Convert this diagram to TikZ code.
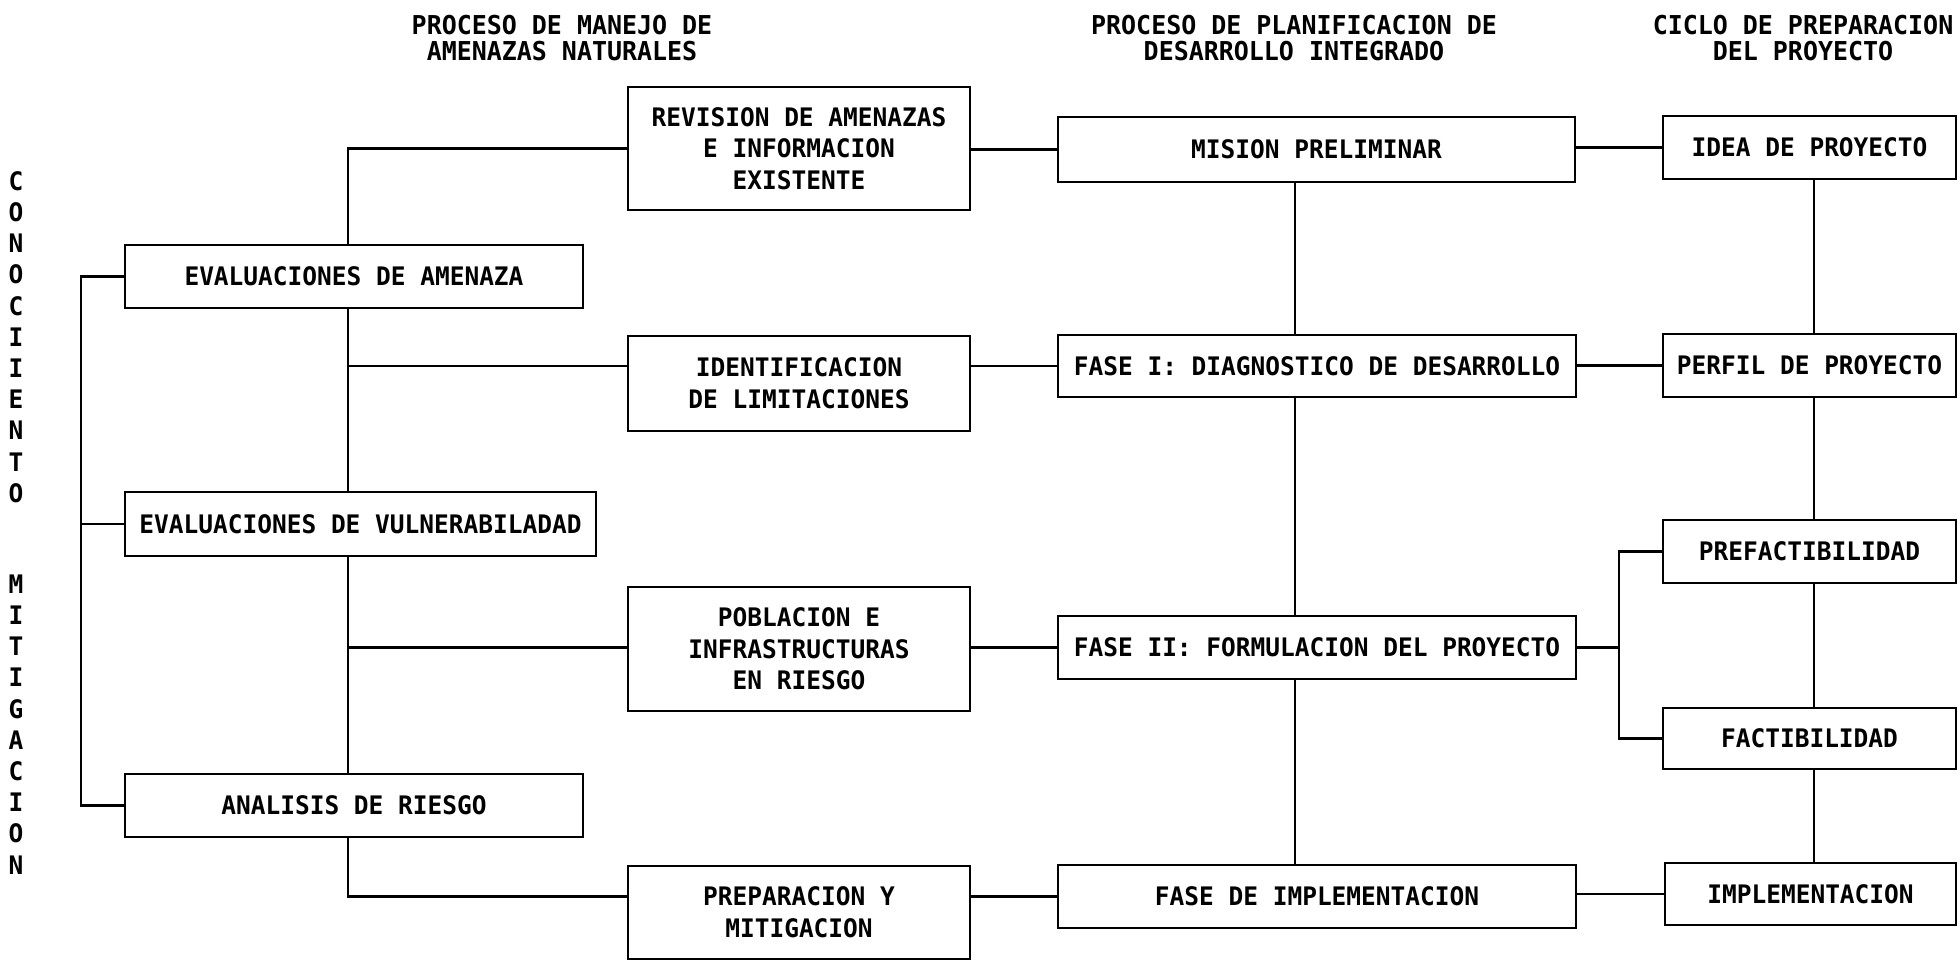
\documentclass[tikz,border=0pt]{standalone}
\usepackage{fontspec}
\newfontfamily\plotfont{DejaVu Sans Mono}[FakeStretch=0.96]
\begin{document}
\begin{tikzpicture}[x=1pt,y=-1pt,
  box/.style={draw,line width=2.8pt,rectangle,inner sep=0pt,align=center,
    font=\plotfont\bfseries\fontsize{25.5}{31.7}\selectfont},
  conn/.style={line width=2.2pt},
  hdr/.style={align=center,inner sep=0pt,
    font=\plotfont\bfseries\fontsize{26}{26}\selectfont},
  vl/.style={inner sep=0pt,font=\plotfont\bfseries\fontsize{25.5}{26}\selectfont}]
\useasboundingbox (0,0) rectangle (1958,961);
% headers
\node[hdr] (h1) at (562,38) {PROCESO DE MANEJO DE\\AMENAZAS NATURALES};
\node[hdr] (h2) at (1294,38) {PROCESO DE PLANIFICACION DE\\DESARROLLO INTEGRADO};
\node[hdr] (h3) at (1803,38) {CICLO DE PREPARACION\\DEL PROYECTO};
% vertical words
\foreach \l [count=\i] in {C,O,N,O,C,I,I,E,N,T,O}
  \node[vl] (ca\i) at (16,{181+31.2*(\i-1)}) {\l};
\foreach \l [count=\i] in {M,I,T,I,G,A,C,I,O,N}
  \node[vl] (mi\i) at (16,{584+31.2*(\i-1)}) {\l};
% column 1
\node[box,minimum width=458pt,minimum height=63pt] (ea) at (354,276.5) {EVALUACIONES DE AMENAZA};
\node[box,minimum width=471pt,minimum height=64pt] (ev) at (360.5,524) {EVALUACIONES DE VULNERABILADAD};
\node[box,minimum width=458pt,minimum height=63pt] (ar) at (354,805.5) {ANALISIS DE RIESGO};
% column 2
\node[box,minimum width=342pt,minimum height=123pt] (rev) at (799,148.5) {REVISION DE AMENAZAS\\E INFORMACION\\EXISTENTE};
\node[box,minimum width=342pt,minimum height=95pt] (idl) at (799,383.5) {IDENTIFICACION\\DE LIMITACIONES};
\node[box,minimum width=342pt,minimum height=124pt] (pob) at (799,649) {POBLACION E\\INFRASTRUCTURAS\\EN RIESGO};
\node[box,minimum width=342pt,minimum height=93pt] (prep) at (799,912.5) {PREPARACION Y\\MITIGACION};
% column 3
\node[box,minimum width=517pt,minimum height=65pt] (mis) at (1316.5,149.5) {MISION PRELIMINAR};
\node[box,minimum width=518pt,minimum height=62pt] (f1) at (1317,366) {FASE I: DIAGNOSTICO DE DESARROLLO};
\node[box,minimum width=518pt,minimum height=63pt] (f2) at (1317,647.5) {FASE II: FORMULACION DEL PROYECTO};
\node[box,minimum width=518pt,minimum height=63pt] (fi) at (1317,896.5) {FASE DE IMPLEMENTACION};
% column 4
\node[box,minimum width=293pt,minimum height=63pt] (idea) at (1809.5,147.5) {IDEA DE PROYECTO};
\node[box,minimum width=293pt,minimum height=63pt] (perf) at (1809.5,365.5) {PERFIL DE PROYECTO};
\node[box,minimum width=293pt,minimum height=63pt] (pref) at (1809.5,551.5) {PREFACTIBILIDAD};
\node[box,minimum width=293pt,minimum height=61pt] (fact) at (1809.5,738.5) {FACTIBILIDAD};
\node[box,minimum width=291pt,minimum height=62pt] (impl) at (1810.5,894) {IMPLEMENTACION};
% helper coordinates
\coordinate (lb) at (81,0);
\coordinate (tr) at (348,0);
\coordinate (mv) at (1295,0);
\coordinate (rb) at (1619,0);
\coordinate (rv) at (1814,0);
% left bracket
\draw[conn] (ea.west) -- (lb |- ea.west) -- (lb |- ar.west) -- (ar.west);
\draw[conn] (ev.west) -- (lb |- ev.west);
% trunk
\draw[conn] (ea.north -| tr) |- (rev.west);
\draw[conn] (ea.south -| tr) -- (ev.north -| tr);
\draw[conn] (tr |- f1.west) -- (idl.west |- f1.west);
\draw[conn] (ev.south -| tr) -- (ar.north -| tr);
\draw[conn] (tr |- f2.west) -- (pob.west |- f2.west);
\draw[conn] (ar.south -| tr) |- (prep.west |- fi.west);
% column 2 to 3
\draw[conn] (rev.east |- mis.west) -- (mis.west);
\draw[conn] (idl.east |- f1.west) -- (f1.west);
\draw[conn] (pob.east |- f2.west) -- (f2.west);
\draw[conn] (prep.east |- fi.west) -- (fi.west);
% middle vertical
\draw[conn] (mis.south -| mv) -- (f1.north -| mv);
\draw[conn] (f1.south -| mv) -- (f2.north -| mv);
\draw[conn] (f2.south -| mv) -- (fi.north -| mv);
% column 3 to 4
\draw[conn] (mis.east |- idea.west) -- (idea.west);
\draw[conn] (f1.east |- perf.west) -- (perf.west);
\draw[conn] (f2.east) -- (rb |- f2.east);
\draw[conn] (pref.west) -- (rb |- pref.west) -- (rb |- fact.west) -- (fact.west);
\draw[conn] (fi.east |- impl.west) -- (impl.west);
% right vertical
\draw[conn] (idea.south -| rv) -- (perf.north -| rv);
\draw[conn] (perf.south -| rv) -- (pref.north -| rv);
\draw[conn] (pref.south -| rv) -- (fact.north -| rv);
\draw[conn] (fact.south -| rv) -- (impl.north -| rv);
\end{tikzpicture}
\end{document}
